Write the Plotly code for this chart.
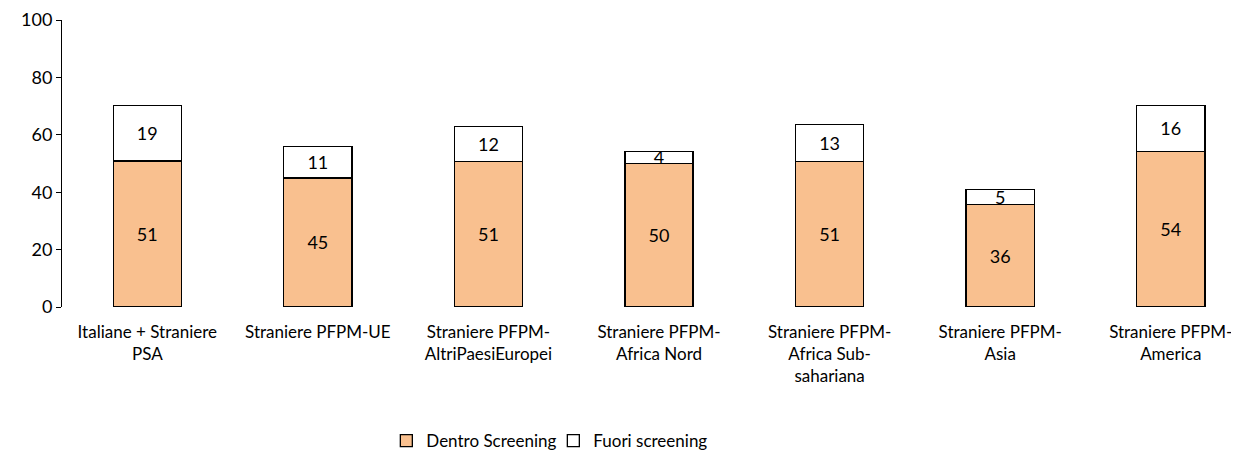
import plotly.graph_objects as go

categories = [
    "Italiane + Straniere<br>PSA",
    "Straniere PFPM-UE",
    "Straniere PFPM-<br>AltriPaesiEuropei",
    "Straniere PFPM-<br>Africa Nord",
    "Straniere PFPM-<br>Africa Sub-<br>sahariana",
    "Straniere PFPM-<br>Asia",
    "Straniere PFPM-<br>America",
]
dentro = [50.9, 45.0, 50.6, 49.9, 50.8, 35.6, 54.2]
fuori = [19.2, 10.9, 12.4, 4.4, 12.9, 5.4, 16.0]
y_ticks = [0, 20, 40, 60, 80, 100]

FONT = "Lato"
FS = 18
x_idx = list(range(len(categories)))

fig = go.Figure()
fig.add_trace(go.Bar(
    x=x_idx, y=dentro, name="Dentro Screening",
    marker=dict(color="#F9C08F", line=dict(color="black", width=1.3)),
    text=[f"{v:.0f}" for v in dentro], textposition="inside",
    insidetextanchor="middle", constraintext="none", textangle=0,
    textfont=dict(color="black", size=FS, family=FONT),
    width=0.4,
))
fig.add_trace(go.Bar(
    x=x_idx, y=fuori, name="Fuori screening",
    marker=dict(color="white", line=dict(color="black", width=1.3)),
    text=[f"{v:.0f}" for v in fuori], textposition="inside",
    insidetextanchor="middle", constraintext="none", textangle=0,
    textfont=dict(color="black", size=FS, family=FONT),
    width=0.4,
))

# page body has an 8px default margin: figure is sized/offset to compensate
fig.update_layout(
    barmode="stack",
    width=1231, height=442,
    margin=dict(l=54, r=0, t=12, b=143),
    paper_bgcolor="white", plot_bgcolor="white",
    font=dict(family=FONT, size=FS, color="black"),
    showlegend=True,
    legend=dict(orientation="h", traceorder="normal",
                xref="container", yref="container",
                x=0.443, xanchor="center", y=0.02, yanchor="middle",
                font=dict(size=17, family=FONT), itemwidth=30, entrywidth=122),
)
fig.update_xaxes(
    tickmode="array", tickvals=x_idx, ticktext=categories,
    range=[-0.5, 6.4], showline=False, showgrid=False, ticks="",
    tickfont=dict(size=17, family=FONT), ticklabelstandoff=13, automargin=False,
)
fig.update_yaxes(
    range=[0, 100], tickvals=y_ticks, showgrid=False, zeroline=False,
    showline=True, linecolor="black", linewidth=1,
    ticks="outside", ticklen=5, tickcolor="black",
    tickfont=dict(size=FS, family=FONT), automargin=False,
)

fig.write_html("out.html")
